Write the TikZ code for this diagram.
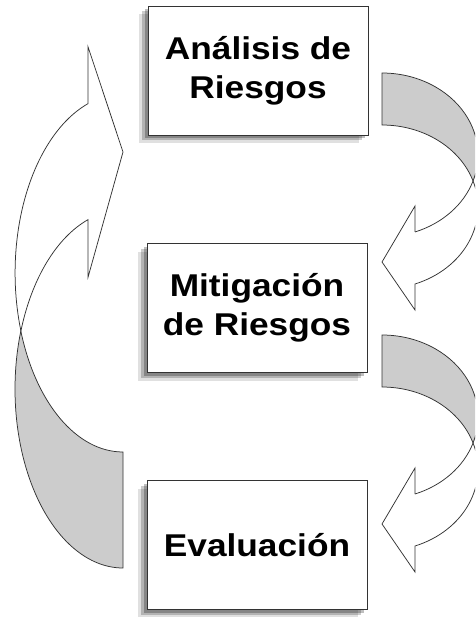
\documentclass[tikz,border=0pt]{standalone}
\usepackage{fontspec}
\setmainfont{Liberation Sans}[FakeStretch=1.12]
\usetikzlibrary{shadows}

\begin{document}
\begin{tikzpicture}[x=1pt, y=-1pt,
    boxStyle/.style={rectangle, draw=black!80, line width=0.9pt, fill=white, minimum width=220pt, minimum height=129pt, inner sep=0pt, align=center, font=\bfseries\fontsize{31.5}{39}\selectfont,
        drop shadow={shadow xshift=-9pt, shadow yshift=-8pt, fill=black, opacity=0.12},
        drop shadow={shadow xshift=-6pt, shadow yshift=-5pt, fill=black, opacity=0.2},
        drop shadow={shadow xshift=-3pt, shadow yshift=-3pt, fill=black, opacity=0.25}},
    frontStyle/.style={draw=black!80, line width=0.75pt, fill=white},
    backStyle/.style={draw=black!80, line width=0.75pt, fill=black!20}]
    \useasboundingbox (0,0) rectangle (475,617);
    \clip (0,0) rectangle (475,617);

    % big arrow going back up on the left
    \draw[backStyle] (123,452) -- (123,568) arc[start angle=270, end angle=161.09, x radius=108pt, y radius=179pt] arc[start angle=198.91, end angle=270, x radius=108pt, y radius=179pt] -- cycle;
    \draw[frontStyle] (88.1,103.6) -- (88.1,47) -- (123,152) -- (88.1,277) -- (88.1,219.6) arc[start angle=108.9, end angle=161.09, x radius=108pt, y radius=179pt] arc[start angle=198.91, end angle=108.9, x radius=108pt, y radius=179pt] -- cycle;

    % arrows on the right, one under each upper box
    \foreach \dy in {0,262}{
        \begin{scope}[shift={(0,\dy)}]
            \draw[backStyle] (382,73) arc[start angle=90, end angle=-18.49, x radius=96pt, y radius=82pt] arc[start angle=18.49, end angle=90, x radius=96pt, y radius=82pt] -- cycle;
            \draw[frontStyle] (415,232) -- (415,206) -- (382,262) -- (415,310) -- (415,284) arc[start angle=-69.9, end angle=18.49, x radius=96pt, y radius=82pt] arc[start angle=-18.49, end angle=-69.9, x radius=96pt, y radius=82pt] -- cycle;
        \end{scope}
    }

    \node[boxStyle] (analisis)   at (258,71)  {Análisis de\\Riesgos};
    \node[boxStyle] (mitigacion) at (257,308) {Mitigación\\de Riesgos};
    \node[boxStyle] (evaluacion) at (257,545) {Evaluación};
\end{tikzpicture}
\end{document}
